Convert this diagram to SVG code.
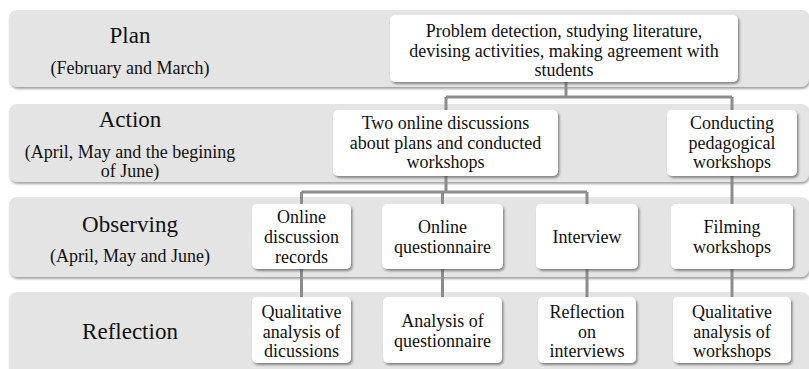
<svg xmlns="http://www.w3.org/2000/svg" width="809" height="369" viewBox="0 0 809 369">
<defs>
<filter id="bsh" x="-10%" y="-10%" width="125%" height="130%">
<feDropShadow dx="1" dy="2" stdDeviation="1.2" flood-color="#555" flood-opacity="0.55"/>
</filter>
<filter id="nsh" x="-10%" y="-10%" width="125%" height="130%">
<feDropShadow dx="1.5" dy="2" stdDeviation="1" flood-color="#444" flood-opacity="0.6"/>
</filter>
</defs>
<style>
.band{fill:#e4e4e4;filter:url(#bsh);}
.node{fill:#ffffff;filter:url(#nsh);}
text{font-family:'Liberation Serif','Tinos','DejaVu Serif',serif;fill:#111;text-anchor:middle;}
.big{font-size:23px;}
.sub{font-size:18px;}
.t{font-size:18px;}
.conn{stroke:#8c8c8c;stroke-width:3;fill:none;}
</style>
<rect width="809" height="369" fill="#ffffff"/>
<g id="band-plan">
<rect class="band" x="9" y="10" width="800" height="77" rx="8"/>
<text class="big" x="130" y="43">Plan</text>
<text class="sub" x="130" y="74">(February and March)</text>
</g>
<g id="band-action">
<rect class="band" x="9" y="104" width="800" height="78" rx="8"/>
<text class="big" x="130" y="127">Action</text>
<text class="sub" x="130" y="158">(April, May and the begining</text>
<text class="sub" x="130" y="177">of June)</text>
</g>
<g id="band-observing">
<rect class="band" x="9" y="197" width="800" height="80" rx="8"/>
<text class="big" x="130" y="232">Observing</text>
<text class="sub" x="130" y="262">(April, May and June)</text>
</g>
<g id="band-reflection">
<rect class="band" x="9" y="292" width="800" height="90" rx="8"/>
<text class="big" x="130" y="339">Reflection</text>
</g>
<g id="connectors">
<path class="conn" d="M566 82 V97 M446 97 H732 M446 97 V110 M732 97 V110"/>
<path class="conn" d="M446 176 V192 M301.5 192 H587 M301.5 192 V204 M442.5 192 V204 M587 192 V204"/>
<path class="conn" d="M732 176 V204"/>
<path class="conn" d="M301.5 269 V297 M442.5 269 V297 M587 269 V297 M732 269 V297"/>
</g>
<g id="n-plan">
<rect class="node" x="390" y="15" width="348" height="67" rx="5"/>
<text class="t" x="564" y="37">Problem detection, studying literature,</text>
<text class="t" x="564" y="56.5">devising activities, making agreement with</text>
<text class="t" x="564" y="76">students</text>
</g>
<g id="n-action1">
<rect class="node" x="333" y="110" width="225" height="66" rx="5"/>
<text class="t" x="445.5" y="129">Two online discussions</text>
<text class="t" x="445.5" y="148.5">about plans and conducted</text>
<text class="t" x="445.5" y="168">workshops</text>
</g>
<g id="n-action2">
<rect class="node" x="667" y="110" width="130" height="66" rx="5"/>
<text class="t" x="732" y="129">Conducting</text>
<text class="t" x="732" y="148.5">pedagogical</text>
<text class="t" x="732" y="168">workshops</text>
</g>
<g id="n-obs1">
<rect class="node" x="252" y="204" width="99" height="65" rx="5"/>
<text class="t" x="301.5" y="223">Online</text>
<text class="t" x="301.5" y="243">discussion</text>
<text class="t" x="301.5" y="263">records</text>
</g>
<g id="n-obs2">
<rect class="node" x="382" y="204" width="121" height="65" rx="5"/>
<text class="t" x="442.5" y="233">Online</text>
<text class="t" x="442.5" y="252.5">questionnaire</text>
</g>
<g id="n-obs3">
<rect class="node" x="536" y="204" width="102" height="65" rx="5"/>
<text class="t" x="587" y="243">Interview</text>
</g>
<g id="n-obs4">
<rect class="node" x="671" y="204" width="122" height="65" rx="5"/>
<text class="t" x="732" y="233">Filming</text>
<text class="t" x="732" y="252.5">workshops</text>
</g>
<g id="n-ref1">
<rect class="node" x="252" y="297" width="99" height="66" rx="5"/>
<text class="t" x="301.5" y="318">Qualitative</text>
<text class="t" x="301.5" y="337.5">analysis of</text>
<text class="t" x="301.5" y="357">dicussions</text>
</g>
<g id="n-ref2">
<rect class="node" x="383" y="297" width="119" height="66" rx="5"/>
<text class="t" x="442.5" y="327">Analysis of</text>
<text class="t" x="442.5" y="347">questionnaire</text>
</g>
<g id="n-ref3">
<rect class="node" x="538" y="297" width="98" height="66" rx="5"/>
<text class="t" x="587" y="318">Reflection</text>
<text class="t" x="587" y="337.5">on</text>
<text class="t" x="587" y="357">interviews</text>
</g>
<g id="n-ref4">
<rect class="node" x="673" y="297" width="118" height="66" rx="5"/>
<text class="t" x="732" y="318">Qualitative</text>
<text class="t" x="732" y="337.5">analysis of</text>
<text class="t" x="732" y="357">workshops</text>
</g>
</svg>
